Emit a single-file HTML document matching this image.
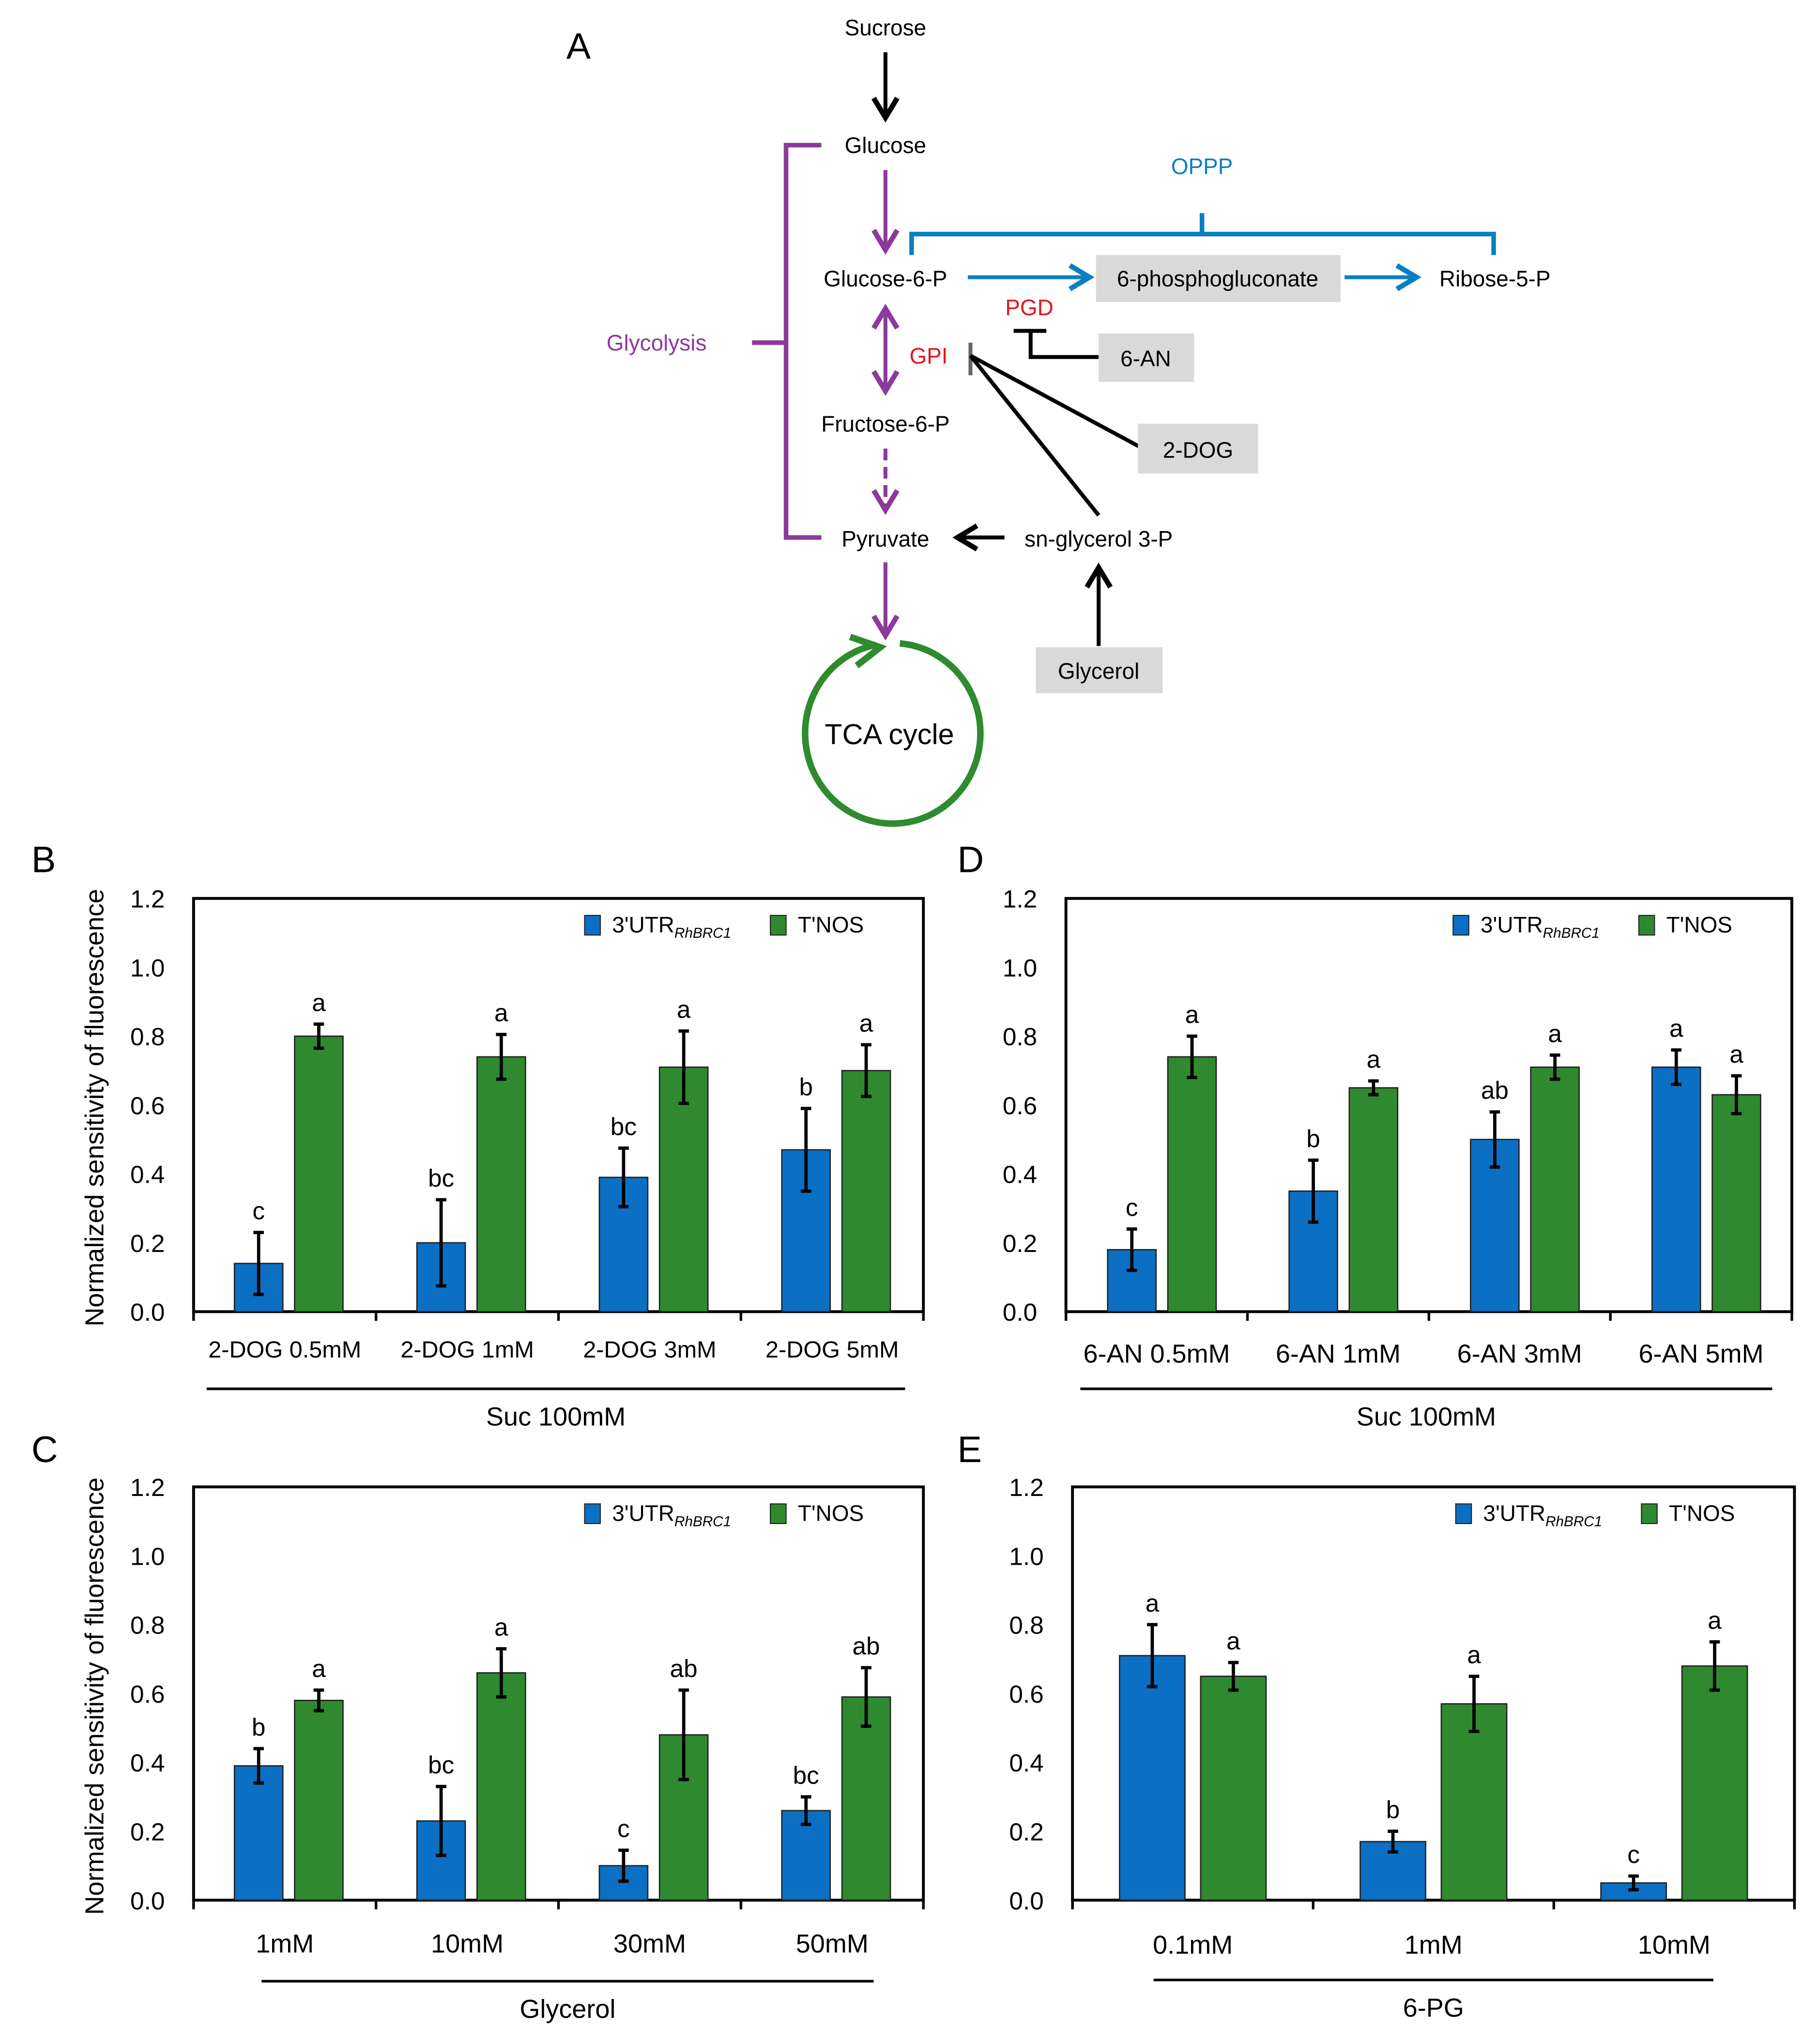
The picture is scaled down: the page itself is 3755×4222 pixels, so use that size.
<!DOCTYPE html>
<html><head><meta charset="utf-8">
<style>
html,body{margin:0;padding:0;background:#fff;}
svg{display:block;font-family:"Liberation Sans",Arial,sans-serif;}
</style></head>
<body>
<svg id="fig" width="3755" height="4222" viewBox="0 0 1390 1563" preserveAspectRatio="none" xmlns="http://www.w3.org/2000/svg">
<defs>
<marker id="ab" markerWidth="8" markerHeight="8" refX="6" refY="4" orient="auto" markerUnits="strokeWidth"><path d="M1,1 L6,4 L1,7" fill="none" stroke="#000" stroke-width="1.3"/></marker>
<marker id="ap" markerWidth="8" markerHeight="8" refX="6" refY="4" orient="auto" markerUnits="strokeWidth"><path d="M1,1 L6,4 L1,7" fill="none" stroke="#8b3a9b" stroke-width="1.3"/></marker>
<marker id="apr" markerWidth="8" markerHeight="8" refX="2" refY="4" orient="auto" markerUnits="strokeWidth"><path d="M7,1 L2,4 L7,7" fill="none" stroke="#8b3a9b" stroke-width="1.3"/></marker>
<marker id="abl" markerWidth="8" markerHeight="8" refX="6" refY="4" orient="auto" markerUnits="strokeWidth"><path d="M1,1 L6,4 L1,7" fill="none" stroke="#0a7fc0" stroke-width="1.3"/></marker>
</defs>
<g id="panelA" font-size="17">
<text x="433" y="45" font-size="28">A</text>
<text x="677" y="27" text-anchor="middle">Sucrose</text>
<line x1="677" y1="40" x2="677" y2="90" stroke="#000" stroke-width="3" marker-end="url(#ab)"/>
<text x="677" y="117" text-anchor="middle">Glucose</text>
<path d="M628,111 H601 V411 H628 M575,262 H601" fill="none" stroke="#8b3a9b" stroke-width="3.5"/>
<text x="502" y="268" text-anchor="middle" fill="#8b3a9b">Glycolysis</text>
<line x1="677" y1="130" x2="677" y2="191" stroke="#8b3a9b" stroke-width="3" marker-end="url(#ap)"/>
<path d="M697,195 V179 H1142 V195 M919,179 V163" fill="none" stroke="#0a7fc0" stroke-width="3.5"/>
<text x="919" y="133" text-anchor="middle" fill="#0a7fc0">OPPP</text>
<text x="677" y="219" text-anchor="middle">Glucose-6-P</text>
<line x1="740" y1="212" x2="833" y2="212" stroke="#0a7fc0" stroke-width="3" marker-end="url(#abl)"/>
<rect x="838" y="195" width="187" height="36" fill="#d9d9d9"/>
<text x="931" y="219" text-anchor="middle">6-phosphogluconate</text>
<line x1="1028" y1="212" x2="1083" y2="212" stroke="#0a7fc0" stroke-width="3" marker-end="url(#abl)"/>
<text x="1143" y="219" text-anchor="middle">Ribose-5-P</text>
<text x="787" y="241" text-anchor="middle" fill="#e8141c">PGD</text>
<path d="M775,253 H800 M788,253 V273 H840" fill="none" stroke="#000" stroke-width="3"/>
<rect x="840" y="255" width="73" height="37" fill="#d9d9d9"/>
<text x="876" y="280" text-anchor="middle">6-AN</text>
<text x="710" y="278" text-anchor="middle" fill="#e8141c">GPI</text>
<line x1="677" y1="236" x2="677" y2="299" stroke="#8b3a9b" stroke-width="3" marker-start="url(#apr)" marker-end="url(#ap)"/>
<line x1="742" y1="262" x2="742" y2="287" stroke="#666" stroke-width="3"/>
<line x1="742" y1="272" x2="872" y2="342" stroke="#000" stroke-width="3"/>
<line x1="742" y1="272" x2="840" y2="394" stroke="#000" stroke-width="3"/>
<rect x="870" y="324" width="92" height="38" fill="#d9d9d9"/>
<text x="916" y="350" text-anchor="middle">2-DOG</text>
<text x="677" y="330" text-anchor="middle">Fructose-6-P</text>
<line x1="677" y1="343" x2="677" y2="390" stroke="#8b3a9b" stroke-width="3" stroke-dasharray="9,5" marker-end="url(#ap)"/>
<text x="677" y="418" text-anchor="middle">Pyruvate</text>
<line x1="768" y1="411" x2="732" y2="411" stroke="#000" stroke-width="3" marker-end="url(#ab)"/>
<text x="840" y="418" text-anchor="middle">sn-glycerol 3-P</text>
<line x1="840" y1="494" x2="840" y2="434" stroke="#000" stroke-width="3" marker-end="url(#ab)"/>
<rect x="792" y="495" width="97" height="35" fill="#d9d9d9"/>
<text x="840" y="519" text-anchor="middle">Glycerol</text>
<line x1="677" y1="430" x2="677" y2="486" stroke="#8b3a9b" stroke-width="3" marker-end="url(#ap)"/>
<path d="M688,492 A67,69 0 1 1 670,493" fill="none" stroke="#2e8b2e" stroke-width="5"/>
<path d="M650,487 L673,495 L655,509" fill="none" stroke="#2e8b2e" stroke-width="5"/>
<text x="680" y="569" text-anchor="middle" font-size="22">TCA cycle</text>
</g>
<g id="charts"></g>
</svg>
<script>
// Panel B
const bCats = ["2-DOG 0.5mM","2-DOG 1mM","2-DOG 3mM","2-DOG 5mM"];
const bBlue = [0.14,0.20,0.39,0.47];
const bBlueErr = [0.09,0.125,0.085,0.12];
const bGreen = [0.80,0.74,0.71,0.70];
const bGreenErr = [0.035,0.065,0.105,0.075];
const bBlueLet = ["c","bc","bc","b"];
const bGreenLet = ["a","a","a","a"];
// Panel C
const cCats = ["1mM","10mM","30mM","50mM"];
const cBlue = [0.39,0.23,0.10,0.26];
const cBlueErr = [0.05,0.10,0.045,0.04];
const cGreen = [0.58,0.66,0.48,0.59];
const cGreenErr = [0.03,0.07,0.13,0.085];
const cBlueLet = ["b","bc","c","bc"];
const cGreenLet = ["a","a","ab","ab"];
// Panel D
const dCats = ["6-AN 0.5mM","6-AN 1mM","6-AN 3mM","6-AN 5mM"];
const dBlue = [0.18,0.35,0.50,0.71];
const dBlueErr = [0.06,0.09,0.08,0.05];
const dGreen = [0.74,0.65,0.71,0.63];
const dGreenErr = [0.06,0.02,0.035,0.055];
const dBlueLet = ["c","b","ab","a"];
const dGreenLet = ["a","a","a","a"];
// Panel E
const eCats = ["0.1mM","1mM","10mM"];
const eBlue = [0.71,0.17,0.05];
const eBlueErr = [0.09,0.03,0.02];
const eGreen = [0.65,0.57,0.68];
const eGreenErr = [0.04,0.08,0.07];
const eBlueLet = ["a","b","c"];
const eGreenLet = ["a","a","a"];
const yTicks = [0,0.2,0.4,0.6,0.8,1.0,1.2];

const NS="http://www.w3.org/2000/svg";
const root=document.getElementById('charts');
function mk(tag,attrs,parent,txt){const e=document.createElementNS(NS,tag);for(const k in attrs)e.setAttribute(k,attrs[k]);if(txt!==undefined)e.textContent=txt;parent.appendChild(e);return e;}

function panel(o){
  const g=mk('g',{},root);
  
  
  const L=o.l,R=o.r,T=o.t,B=o.b;
  const y=v=>B-(v/1.2)*(B-T);
  const n=o.cats.length, gw=(R-L)/n;
  const x=i=>L+gw*(i+0.5);
  const lab=mk('text',{x:o.lx,y:o.ly,'font-size':28},g,o.id.toUpperCase());
  
  
  yTicks.forEach(v=>{
    const t=mk('text',{x:L-22,y:y(v)+7,'text-anchor':'end','font-size':19},g,v.toFixed(1));
    
    
  });
  const fr=mk('rect',{x:L,y:T,width:R-L,height:B-T,fill:'none',stroke:'#000','stroke-width':2.2},g);
  
  
  for(let i=0;i<=n;i++){mk('line',{x1:L+gw*i,y1:B,x2:L+gw*i,y2:B+7,stroke:'#000','stroke-width':2},g);}
  const series=[{v:o.blue,e:o.be,l:o.bl,off:o.bo,c:'#0b6fc4',name:'blue-bar'},{v:o.green,e:o.ge,l:o.gl,off:o.go,c:'#2f8a2f',name:'green-bar'}];
  series.forEach(s=>{
    s.v.forEach((v,i)=>{
      const cx=x(i)+s.off, w=o.bw;
      const r=mk('rect',{x:cx-w/2,y:y(v),width:w,height:B-y(v),fill:s.c,stroke:'#222','stroke-width':1},g);
      
      
      const top=y(v+s.e[i]), bot=y(v-s.e[i]);
      const eb=mk('path',{d:`M${cx},${top}V${bot}M${cx-4},${top}H${cx+4}M${cx-4},${bot}H${cx+4}`,stroke:'#000','stroke-width':2.5,fill:'none'},g);
      
      
      const lt=mk('text',{x:cx,y:top-10,'text-anchor':'middle','font-size':19},g,s.l[i]);
      
      
    });
  });
  o.cats.forEach((c,i)=>{
    const t=mk('text',{x:x(i),y:o.xly,'text-anchor':'middle','font-size':o.xfs},g,c);
    
    
  });
  mk('line',{x1:o.ul[0],y1:o.ul[2],x2:o.ul[1],y2:o.ul[2],stroke:'#000','stroke-width':2},g);
  const gt=mk('text',{x:(o.ul[0]+o.ul[1])/2,y:o.ul[2]+28,'text-anchor':'middle','font-size':20},g,o.group);
  
  
  // legend
  const lg=mk('g',{},g);
  
  
  const lx=R-259, ly=T+13;
  mk('rect',{x:lx,y:ly,width:12,height:15,fill:'#0b6fc4',stroke:'#222','stroke-width':0.8},lg);
  const t1=mk('text',{x:lx+21,y:ly+13,'font-size':17},lg);
  mk('tspan',{},t1,"3'UTR");
  mk('tspan',{'font-size':11,'font-style':'italic',dy:4},t1,"RhBRC1");
  mk('rect',{x:lx+142,y:ly,width:12,height:15,fill:'#2f8a2f',stroke:'#222','stroke-width':0.8},lg);
  mk('text',{x:lx+163,y:ly+13,'font-size':17},lg,"T'NOS");
  if(o.ytitle){
    const yt=mk('text',{x:0,y:0,'text-anchor':'middle','font-size':20,transform:`translate(79,${(T+B)/2+2}) rotate(-90)`},g,'Normalized sensitivity of fluorescence');
    
    
  }
}
panel({id:'b',l:148,r:706,t:687,b:1003,cats:bCats,blue:bBlue,be:bBlueErr,green:bGreen,ge:bGreenErr,bl:bBlueLet,gl:bGreenLet,bo:-20,go:26,bw:37,lx:24,ly:667,xly:1038,xfs:18,ul:[158,692,1062],group:'Suc 100mM',ytitle:true});
panel({id:'c',l:148,r:706,t:1137,b:1453,cats:cCats,blue:cBlue,be:cBlueErr,green:cGreen,ge:cGreenErr,bl:cBlueLet,gl:cGreenLet,bo:-20,go:26,bw:37,lx:24,ly:1118,xly:1493,xfs:20,ul:[200,668,1515],group:'Glycerol',ytitle:true});
panel({id:'d',l:815,r:1370,t:687,b:1003,cats:dCats,blue:dBlue,be:dBlueErr,green:dGreen,ge:dGreenErr,bl:dBlueLet,gl:dGreenLet,bo:-19,go:27,bw:37,lx:732,ly:667,xly:1042,xfs:20,ul:[826,1355,1062],group:'Suc 100mM',ytitle:false});
panel({id:'e',l:820,r:1372,t:1137,b:1453,cats:eCats,blue:eBlue,be:eBlueErr,green:eGreen,ge:eGreenErr,bl:eBlueLet,gl:eGreenLet,bo:-31,go:31,bw:50,lx:732,ly:1118,xly:1494,xfs:20,ul:[882,1310,1514],group:'6-PG',ytitle:false});
</script>
</body></html>
